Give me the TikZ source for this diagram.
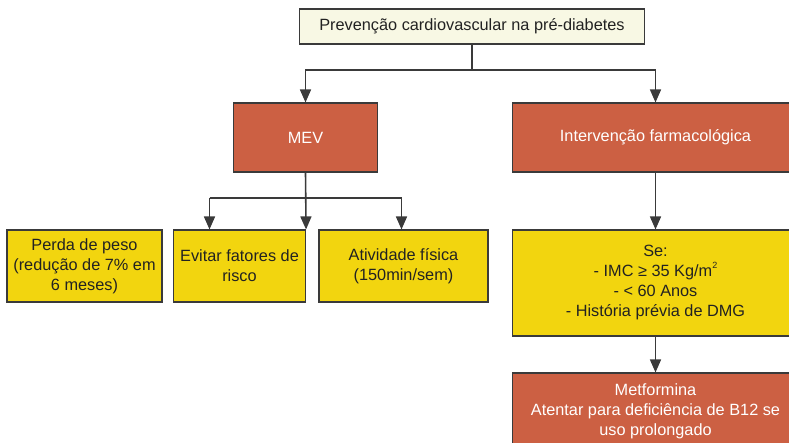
\documentclass[tikz,border=0pt]{standalone}
\usepackage{fontspec}
\setmainfont{Liberation Sans}
\usetikzlibrary{arrows.meta}
\definecolor{topfill}{HTML}{F8F8E4}
\definecolor{orfill}{HTML}{CC6043}
\definecolor{yefill}{HTML}{F2D50F}
\definecolor{bord}{HTML}{3A3A3A}
\definecolor{txt}{HTML}{222222}
\newcommand{\smallsup}[1]{\raisebox{0.55em}{\fontsize{9}{9}\selectfont #1}}
\tikzset{
  box/.style={draw=bord, line width=1.1pt, inner sep=0pt, align=center,
    font=\fontsize{16.3}{20}\selectfont, text=txt},
  topbox/.style={box, fill=topfill},
  orbox/.style={box, fill=orfill, text=white},
  yebox/.style={box, fill=yefill},
  link/.style={draw=bord, line width=1.6pt},
  arr/.style={link, -{Triangle[length=13pt,width=11pt]}}
}
\begin{document}
\begin{tikzpicture}[x=1pt,y=-1pt]
\useasboundingbox (0,0) rectangle (789,443);
\clip (0,0) rectangle (789,443);
\node[topbox, minimum width=345pt, minimum height=35pt] (top) at (472,26.5) {Prevenção cardiovascular na pré-diabetes};
\node[orbox, minimum width=144pt, minimum height=69pt] (mev) at (305.5,137.5) {MEV};
\node[orbox, minimum width=286pt, minimum height=69pt] (interv) at (655.5,137.5) {Intervenção farmacológica};
\node[yebox, minimum width=155pt, minimum height=72pt] (perda) at (84.5,266) {Perda de peso\\(redução de 7\% em\\6 meses)};
\node[yebox, minimum width=132pt, minimum height=72pt] (evitar) at (239.5,266) {Evitar fatores de\\risco};
\node[yebox, minimum width=169pt, minimum height=72pt] (ativ) at (403.5,266) {Atividade física\\(150min/sem)};
\node[yebox, minimum width=286pt, minimum height=106pt] (se) at (655.5,283) {Se:\\- IMC ≥ 35 Kg/m\smallsup{2}\\- < 60 Anos\\- História prévia de DMG};
\node[orbox, minimum width=286pt, minimum height=76pt] (metf) at (655.5,411) {Metformina\\Atentar para deficiência de B12 se\\uso prolongado};
\coordinate (j1) at (472,70);
\coordinate (b1) at (209.5,198);
\coordinate (b3) at (401.5,198);
\draw[link] (top.south) -- (j1);
\draw[arr] (j1) -| (mev.north);
\draw[arr] (j1) -| (interv.north);
\draw[arr] (mev.south) -- (evitar.north east);
\draw[link] (b1) -- (b3);
\draw[arr] (b1) -- (b1 |- evitar.north);
\draw[arr] (b3) -- (b3 |- ativ.north);
\draw[arr] (interv.south) -- (se.north);
\draw[arr] (se.south) -- (metf.north);
\end{tikzpicture}
\end{document}
